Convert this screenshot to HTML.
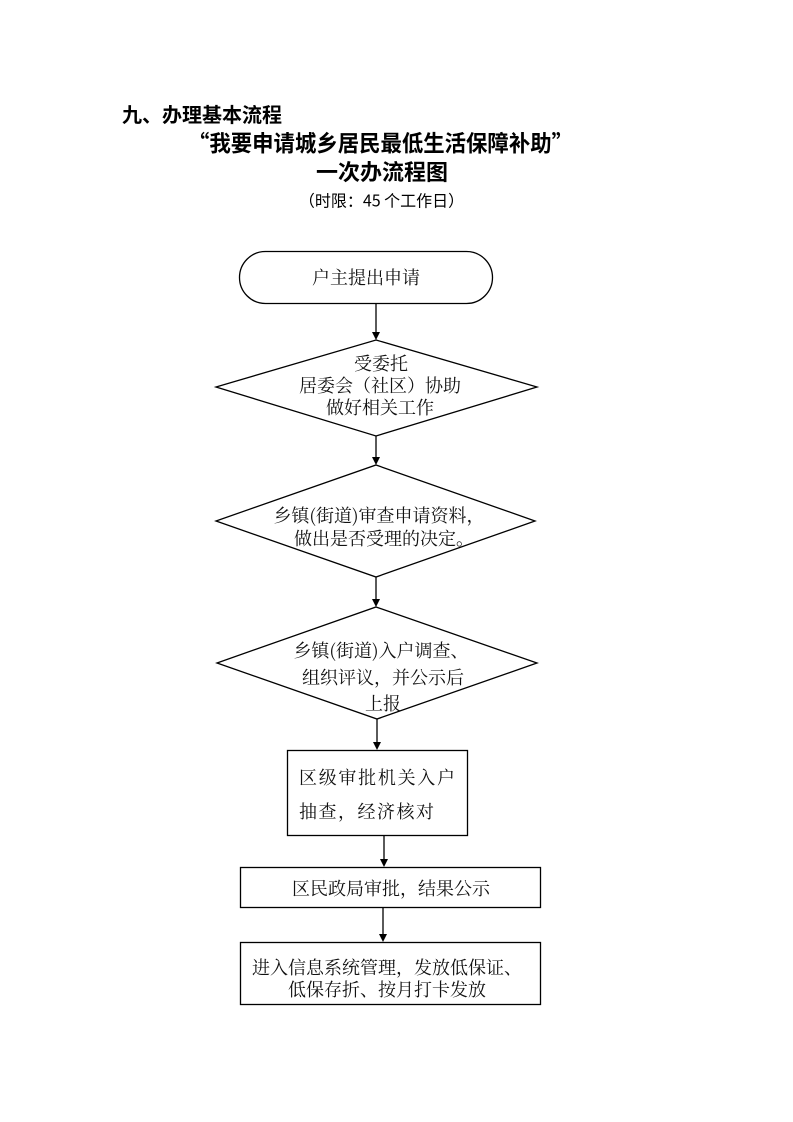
<!DOCTYPE html>
<html lang="zh-CN">
<head>
<meta charset="utf-8">
<style>
  html, body { margin: 0; padding: 0; background: #ffffff; }
  body { width: 793px; height: 1122px; overflow: hidden; }
  svg { display: block; }
  .t { font-family: "Noto Sans CJK SC", "WenQuanYi Zen Hei", sans-serif; fill: #000; }
  .f { font-family: "Noto Serif CJK SC", "Liberation Serif", serif; fill: #111; font-size: 18px; }
</style>
</head>
<body>
<svg width="793" height="1122" viewBox="0 0 793 1122" xmlns="http://www.w3.org/2000/svg">
  <!-- Titles -->
  <text class="t" x="122" y="113.5" font-size="20" font-weight="bold" dominant-baseline="central">九、办理基本流程</text>
  <text class="t" x="380.5" y="142.5" font-size="22.5" font-weight="bold" text-anchor="middle" dominant-baseline="central" textLength="385" lengthAdjust="spacingAndGlyphs">“我要申请城乡居民最低生活保障补助”</text>
  <text class="t" x="382" y="171" font-size="22" font-weight="bold" text-anchor="middle" dominant-baseline="central">一次办流程图</text>
  <text class="t" x="381.5" y="199.5" font-size="16" text-anchor="middle" dominant-baseline="central">（时限：45 个工作日）</text>

  <g fill="none" stroke="#000" stroke-width="1.3">
    <!-- Start rounded rect -->
    <rect x="239.5" y="251.5" width="253" height="52" rx="26" ry="26"/>
    <!-- Diamonds -->
    <polygon points="376,340 537,387 376,436 216,387"/>
    <polygon points="376,465 535,521 376,577 216,521"/>
    <polygon points="376,607 537,663 377,719 217,663"/>
    <!-- Rectangles -->
    <rect x="287.5" y="750.5" width="180" height="85"/>
    <rect x="240.5" y="867.5" width="300" height="40"/>
    <rect x="240.5" y="942.5" width="300" height="62"/>
    <!-- Connector lines -->
    <line x1="376" y1="304" x2="376" y2="334"/>
    <line x1="376" y1="436" x2="376" y2="459"/>
    <line x1="376" y1="577" x2="376" y2="601"/>
    <line x1="377" y1="719" x2="377" y2="744"/>
    <line x1="384" y1="836" x2="384" y2="861"/>
    <line x1="383" y1="908" x2="383" y2="936"/>
  </g>
  <!-- Arrowheads -->
  <g fill="#000">
    <polygon points="372,332 380,332 376,340"/>
    <polygon points="372,457 380,457 376,465"/>
    <polygon points="372,599 380,599 376,607"/>
    <polygon points="373,742 381,742 377,750"/>
    <polygon points="380,859 388,859 384,867"/>
    <polygon points="379,934 387,934 383,942"/>
  </g>

  <!-- Flow text -->
  <text class="f" x="366" y="277" text-anchor="middle" dominant-baseline="central">户主提出申请</text>

  <text class="f" x="381" y="363" text-anchor="middle" dominant-baseline="central">受委托</text>
  <text class="f" x="380" y="385" text-anchor="middle" dominant-baseline="central">居委会（社区）协助</text>
  <text class="f" x="380" y="407" text-anchor="middle" dominant-baseline="central">做好相关工作</text>

  <text class="f" x="379" y="515" text-anchor="middle" dominant-baseline="central">乡镇(街道)审查申请资料，</text>
  <text class="f" x="384" y="538" text-anchor="middle" dominant-baseline="central">做出是否受理的决定。</text>

  <text class="f" x="381" y="650" text-anchor="middle" dominant-baseline="central">乡镇(街道)入户调查、</text>
  <text class="f" x="383" y="677" text-anchor="middle" dominant-baseline="central">组织评议，并公示后</text>
  <text class="f" x="383" y="703" text-anchor="middle" dominant-baseline="central">上报</text>

  <text class="f" x="299" y="777" dominant-baseline="central" textLength="156" lengthAdjust="spacing">区级审批机关入户</text>
  <text class="f" x="299" y="811" dominant-baseline="central" letter-spacing="1.5">抽查，经济核对</text>

  <text class="f" x="391" y="888" text-anchor="middle" dominant-baseline="central">区民政局审批，结果公示</text>

  <text class="f" x="252" y="967" dominant-baseline="central">进入信息系统管理，发放低保证、</text>
  <text class="f" x="288" y="989" dominant-baseline="central">低保存折、按月打卡发放</text>
</svg>
</body>
</html>
